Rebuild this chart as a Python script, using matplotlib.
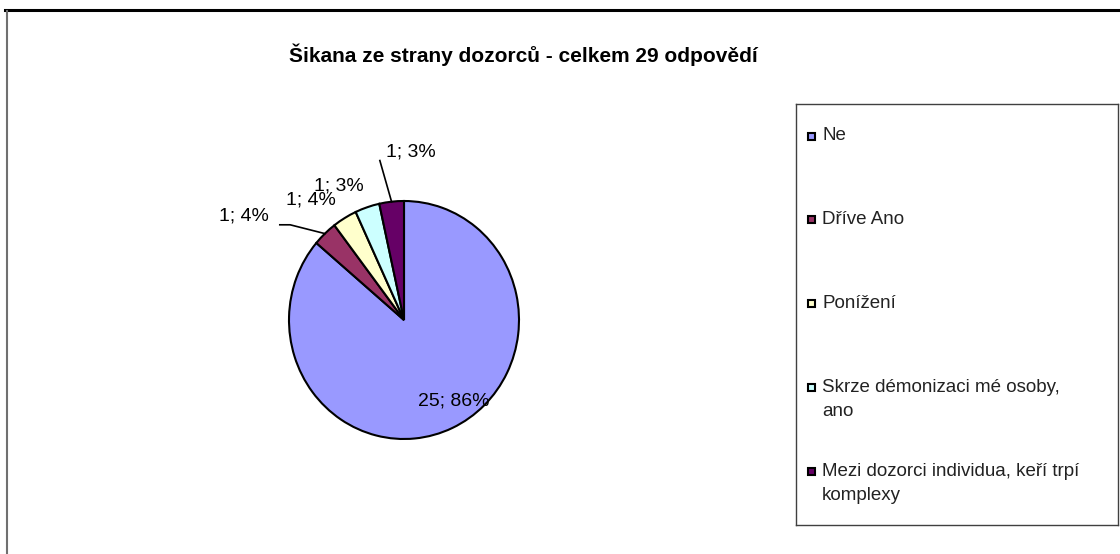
"""
Pie chart: Šikana ze strany dozorců - celkem 29 odpovědí
"""

import numpy as np
import matplotlib.pyplot as plt
from matplotlib.lines import Line2D
from matplotlib.patches import Rectangle

plt.rcParams["font.family"] = ["Liberation Sans", "DejaVu Sans"]

title = "Šikana ze strany dozorců - celkem 29 odpovědí"
categories = [
    "Ne",
    "Dříve Ano",
    "Ponížení",
    "Skrze démonizaci mé osoby,\nano",
    "Mezi dozorci individua, keří trpí\nkomplexy",
]
counts = [25, 1, 1, 1, 1]
percent_labels = ["86%", "4%", "4%", "3%", "3%"]
colors = ["#9999FF", "#993366", "#FFFFCC", "#CCFFFF", "#660066"]

W, H = 1120, 554


def fx(x):
    return x / W


def fy(y):
    return 1 - y / H


fig = plt.figure(figsize=(W / 100, H / 100), dpi=100)

# chart area border (top black, left grey)
fig.add_artist(Line2D([fx(5), 1], [fy(10), fy(10)], color="black", lw=2.2))
fig.add_artist(Line2D([fx(6.5), fx(6.5)], [fy(11), 0], color="#707070", lw=1.5))

fig.text(fx(523), fy(55), title, ha="center", va="center",
         fontsize=15, fontweight="bold")

# pie, slightly taller than wide like the original
cx, cy, rx, ry = 404, 320, 115, 119
ax = fig.add_axes([fx(cx - rx), fy(cy + ry), 2 * rx / W, 2 * ry / H])
wedges, _ = ax.pie(
    counts,
    colors=colors,
    startangle=90,
    counterclock=False,
    radius=1,
    wedgeprops=dict(edgecolor="black", linewidth=1.5),
)
ax.set_aspect("auto")
ax.set_xlim(-1, 1)
ax.set_ylim(-1, 1)
ax.axis("off")

# label text positions (axes data units) and leader elbows
label_pos = [(0.43, -0.68), (-1.39, 0.87), (-0.81, 1.01), (-0.57, 1.13), (0.06, 1.41)]
leaders = {1: [(-1.08, 0.80), (-0.99, 0.80)], 4: [(-0.21, 1.34)]}

for i, (w, n, p) in enumerate(zip(wedges, counts, percent_labels)):
    x, y = label_pos[i]
    ax.text(x, y, f"{n}; {p}", ha="center", va="center", fontsize=14)
    if i in leaders:
        mid = np.deg2rad((w.theta1 + w.theta2) / 2)
        pts = leaders[i] + [(np.cos(mid), np.sin(mid))]
        xs, ys = zip(*pts)
        ax.plot(xs, ys, color="black", lw=1.2, clip_on=False)

# legend box drawn by hand
lx0, ly0, lx1, ly1 = 796, 104, 1118, 525
lax = fig.add_axes([fx(lx0), fy(ly1), (lx1 - lx0) / W, (ly1 - ly0) / H])
lax.set_xlim(0, lx1 - lx0)
lax.set_ylim(ly1 - ly0, 0)
lax.set_xticks([])
lax.set_yticks([])
for s in lax.spines.values():
    s.set_color("#404040")
    s.set_linewidth(1.0)

step = 83.75
for i, (name, c) in enumerate(zip(categories, colors)):
    yc = 32 + i * step
    lax.add_patch(Rectangle((12, yc - 3.5), 7, 7, facecolor=c,
                            edgecolor="black", lw=1.5))
    for j, line in enumerate(name.split("\n")):
        lax.text(26, yc + j * 24, line, ha="left",
                 va="center", fontsize=13.5, color="#222222")

fig.savefig("out.png", dpi=100)
